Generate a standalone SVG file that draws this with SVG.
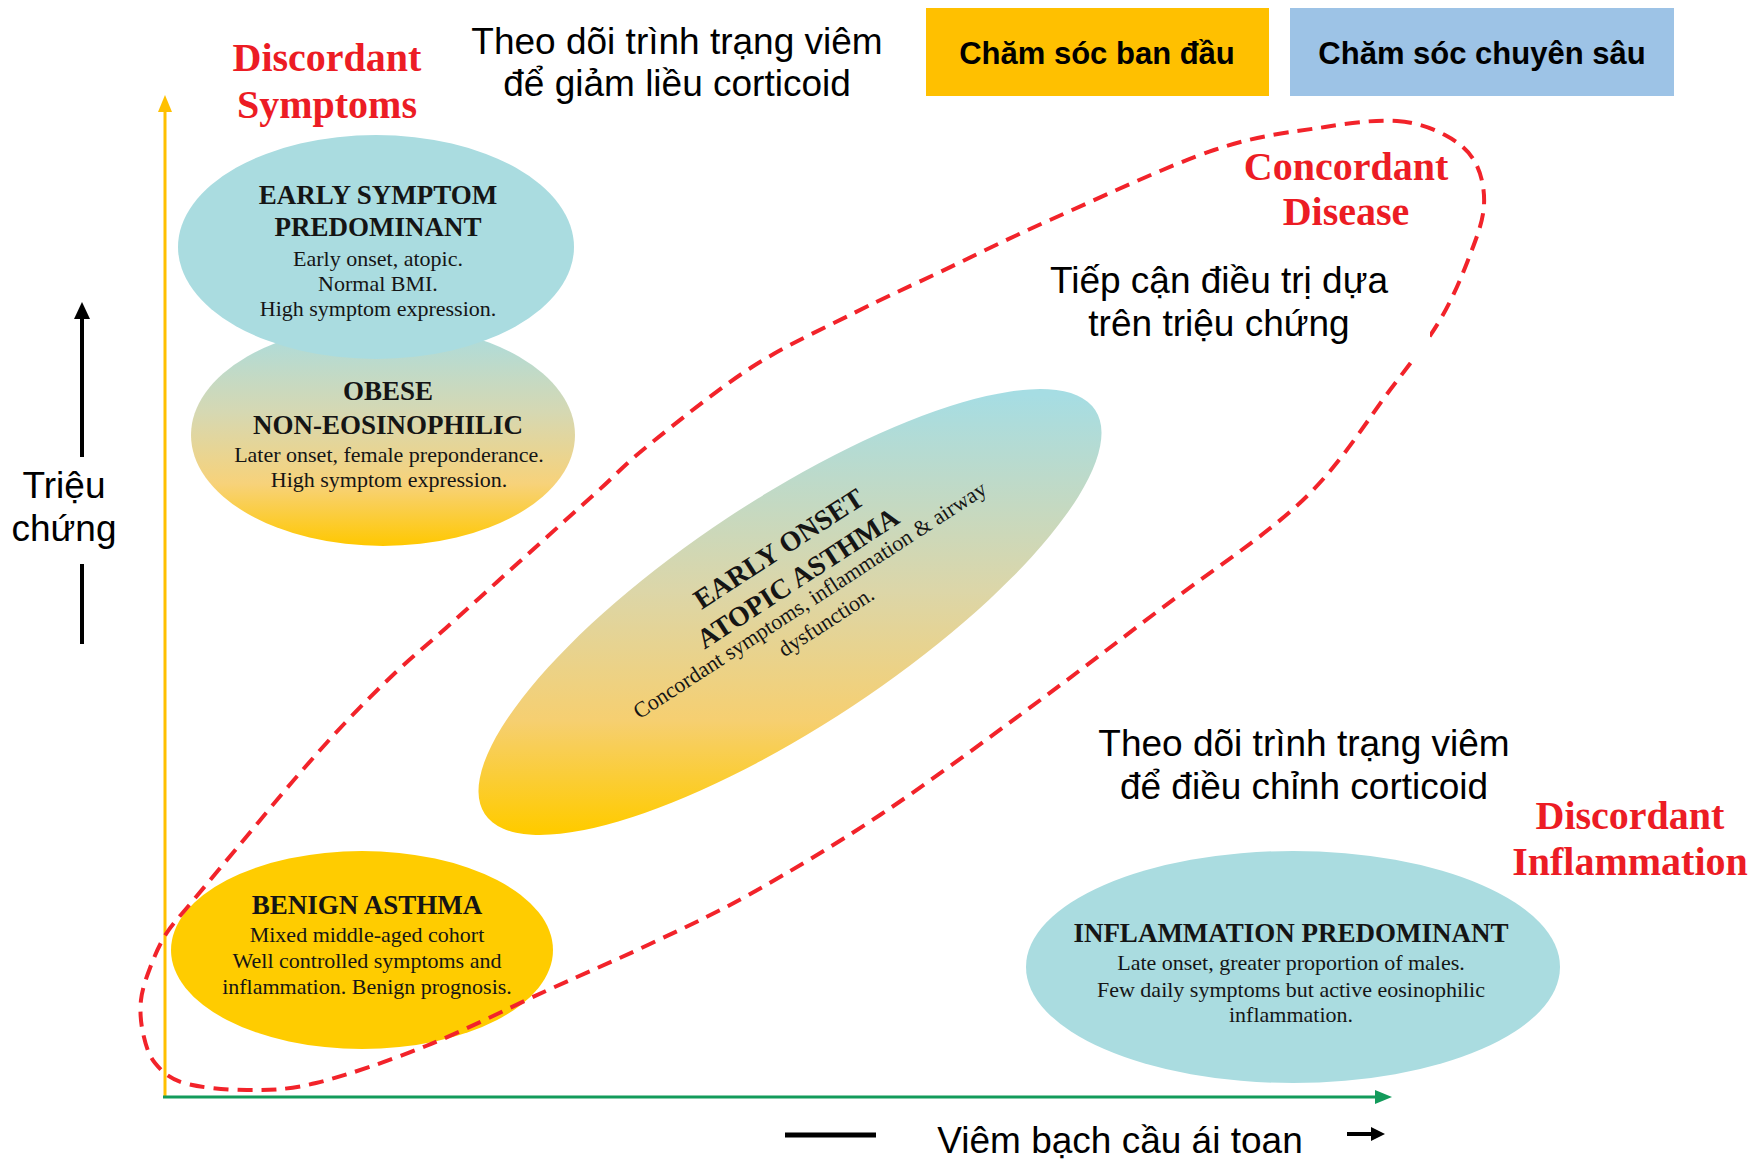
<svg xmlns="http://www.w3.org/2000/svg" width="1752" height="1161" viewBox="0 0 1752 1161">
<defs>
<style>
.vn{font-family:"Liberation Sans",Arial,sans-serif;font-size:37px;fill:#000;text-anchor:middle}
.boxt{font-family:"Liberation Sans",Arial,sans-serif;font-size:31px;font-weight:bold;fill:#000;text-anchor:middle}
.red{font-family:"Liberation Serif","Times New Roman",serif;font-size:40px;font-weight:bold;fill:#EC1C24;text-anchor:middle}
.t{font-family:"Liberation Serif","Times New Roman",serif;font-size:27px;font-weight:bold;fill:#151515;text-anchor:middle}
.b{font-family:"Liberation Serif","Times New Roman",serif;font-size:22px;fill:#151515;text-anchor:middle}
.loop{fill:none;stroke:#F2232A;stroke-width:4;stroke-dasharray:15 9}
.blue{fill:#AADCE0}
.ax{stroke-width:3;fill:none}
</style>
<linearGradient id="gObese" x1="0" y1="0" x2="0" y2="1">
<stop offset="0" stop-color="#A8DCE0"/>
<stop offset="0.4" stop-color="#D6D8B2"/>
<stop offset="0.72" stop-color="#F7D27A"/>
<stop offset="1" stop-color="#FFC800"/>
</linearGradient>
<linearGradient id="gCentral" gradientUnits="userSpaceOnUse" x1="790" y1="395" x2="790" y2="830" gradientTransform="rotate(33.5 790 612)">
<stop offset="0" stop-color="#A6DDE3"/>
<stop offset="0.45" stop-color="#DCD6A8"/>
<stop offset="0.75" stop-color="#F6CF70"/>
<stop offset="1" stop-color="#FFCB00"/>
</linearGradient>
</defs>
<rect width="1752" height="1161" fill="#fff"/>

<g id="node-obese">
<ellipse cx="383" cy="435" rx="192" ry="111" fill="url(#gObese)"/>
<text class="t" x="388" y="400">OBESE</text>
<text class="t" x="388" y="434">NON-EOSINOPHILIC</text>
<text class="b" x="389" y="462">Later onset, female preponderance.</text>
<text class="b" x="389" y="487">High symptom expression.</text>
</g>

<g id="node-early-symptom">
<ellipse class="blue" cx="376" cy="247" rx="198" ry="112"/>
<text class="t" x="378" y="204">EARLY SYMPTOM</text>
<text class="t" x="378" y="236">PREDOMINANT</text>
<text class="b" x="378" y="266">Early onset, atopic.</text>
<text class="b" x="378" y="291">Normal BMI.</text>
<text class="b" x="378" y="316">High symptom expression.</text>
</g>

<g id="node-early-onset">
<ellipse cx="790" cy="612" rx="366" ry="113" transform="rotate(-33.5 790 612)" fill="url(#gCentral)"/>
<g transform="rotate(-33 790 612)">
<text class="t" x="815" y="562" style="font-size:28px">EARLY ONSET</text>
<text class="t" x="815" y="597" style="font-size:28px">ATOPIC ASTHMA</text>
<text class="b" x="813" y="620">Concordant symptoms, inflammation &amp; airway</text>
<text class="b" x="815" y="647">dysfunction.</text>
</g>
</g>

<g id="node-benign">
<ellipse cx="362" cy="950" rx="191" ry="99" fill="#FFCC00"/>
<text class="t" x="367" y="914">BENIGN ASTHMA</text>
<text class="b" x="367" y="942">Mixed middle-aged cohort</text>
<text class="b" x="367" y="968">Well controlled symptoms and</text>
<text class="b" x="367" y="994">inflammation. Benign prognosis.</text>
</g>

<g id="node-inflammation">
<ellipse class="blue" cx="1293" cy="967" rx="267" ry="116"/>
<text class="t" x="1291" y="942">INFLAMMATION PREDOMINANT</text>
<text class="b" x="1291" y="970">Late onset, greater proportion of males.</text>
<text class="b" x="1291" y="997">Few daily symptoms but active eosinophilic</text>
<text class="b" x="1291" y="1022">inflammation.</text>
</g>

<g id="node-box-primary">
<rect x="926" y="8" width="343" height="88" fill="#FFC000"/>
<text class="boxt" x="1097" y="64">Chăm sóc ban đầu</text>
</g>
<g id="node-box-specialist">
<rect x="1290" y="8" width="384" height="88" fill="#9DC3E6"/>
<text class="boxt" x="1482" y="64">Chăm sóc chuyên sâu</text>
</g>

<g id="connectors">
<line class="ax" x1="165" y1="1097" x2="165" y2="108" stroke="#FFC000"/>
<polygon points="165,95 158,112 172,112" fill="#FFC000"/>
<line class="ax" x1="163" y1="1097" x2="1378" y2="1097" stroke="#139B5B" stroke-width="4"/>
<polygon points="1392,1097 1375,1090 1375,1104" fill="#139B5B"/>
<line x1="82" y1="314" x2="82" y2="457" stroke="#000" stroke-width="4"/>
<polygon points="82,302 74,319 90,319" fill="#000"/>
<line x1="82" y1="564" x2="82" y2="644" stroke="#000" stroke-width="4"/>
<line x1="785" y1="1135" x2="876" y2="1135" stroke="#000" stroke-width="5"/>
<line x1="1347" y1="1134" x2="1374" y2="1134" stroke="#000" stroke-width="4"/>
<polygon points="1385,1134 1371,1127 1371,1141" fill="#000"/>
<path class="loop" d="M1397,121 C1417,122.33 1432,128.17 1445,135 S1468.5,150.33 1475,162 S1484.83,189.5 1484,205 S1477.33,235.83 1470,255 S1453.33,297.5 1440,320 S1412.83,360 1390,390 S1341.67,463.17 1303,500 S1205.17,575.17 1158,611 S1066.33,681 1020,715 S924.67,785.33 880,815 S790.33,871.5 752,893 S684,927.83 650,944 S585.33,973 548,990 S464.67,1030.5 426,1046 S345.83,1075.67 316,1083 S269,1090 247,1090 S199.33,1087.5 184,1083 S161.83,1071.33 155,1063 S145.33,1043.5 143,1033 S139.83,1010.83 141,1000 S145.83,979 150,968 S159.17,944.83 166,934 S178.33,918.33 191,903 S225,862.33 242,842 S276,800.67 293,781 S327,742 344,724 S378,689 395,673 S429,643.17 446,628 S480,597.33 497,582 S531,551.33 548,536 S582,505.33 599,490 S624.5,464.5 650,444 S718,388.83 752,367 S822.67,328.83 854,313 S907.33,287.5 940,272 S1004.33,240.33 1050,220 S1168.17,165.5 1214,150 S1294.5,131.83 1325,127 S1377,119.67 1397,121 Z"/>
</g>

<g id="labels">
<text class="red" x="327" y="71">Discordant</text>
<text class="red" x="327" y="118">Symptoms</text>
<text class="red" x="1346" y="180">Concordant</text>
<text class="red" x="1346" y="225">Disease</text>
<text class="red" x="1630" y="829">Discordant</text>
<text class="red" x="1630" y="875">Inflammation</text>
<text class="vn" x="677" y="54">Theo dõi trình trạng viêm</text>
<text class="vn" x="677" y="96">để giảm liều corticoid</text>
<rect x="1040" y="250" width="390" height="112" fill="#fff"/>
<text class="vn" x="1219" y="293">Tiếp cận điều trị dựa</text>
<text class="vn" x="1219" y="336">trên triệu chứng</text>
<text class="vn" x="1304" y="756">Theo dõi trình trạng viêm</text>
<text class="vn" x="1304" y="799">để điều chỉnh corticoid</text>
<text class="vn" x="64" y="498">Triệu</text>
<text class="vn" x="64" y="541">chứng</text>
<text class="vn" x="1120" y="1153">Viêm bạch cầu ái toan</text>
</g>
</svg>
